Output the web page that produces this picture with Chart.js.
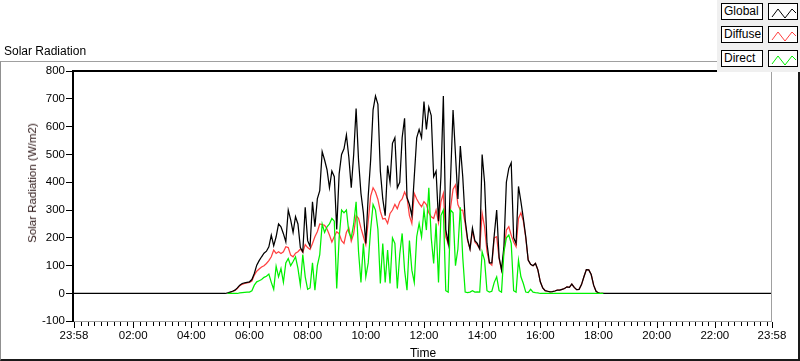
<!DOCTYPE html>
<html>
<head>
<meta charset="utf-8">
<script src="https://cdn.jsdelivr.net/npm/chart.js@4/dist/chart.umd.min.js"></script>
<style>
html,body{margin:0;padding:0;background:#fff;width:800px;height:361px;overflow:hidden;}
body{font-family:"Liberation Sans",Arial,sans-serif;color:#000;}
#wrap{position:relative;width:800px;height:361px;}
#c{position:absolute;left:0;top:0;}
#frame{position:absolute;left:0;top:61px;width:800px;height:300px;box-sizing:border-box;
  border-top:1px solid #a0a0a0;border-left:1px solid #909090;border-right:2px solid #1a1a1a;border-bottom:2px solid #1a1a1a;}
#chartTitle{position:absolute;left:4px;top:43px;font-size:12px;line-height:16px;white-space:nowrap;}
#xTitle{position:absolute;left:423px;top:345px;transform:translateX(-50%);font-size:12px;line-height:16px;white-space:nowrap;}
#yTitle{position:absolute;left:32px;top:183px;transform:translate(-50%,-50%) rotate(-90deg);font-size:11.5px;line-height:14px;white-space:nowrap;color:#2a1414;}
#legendBg{position:absolute;left:717px;top:0;width:83px;height:72px;background:#f0f0f0;}
.lbl{position:absolute;left:721px;width:42px;height:17px;box-sizing:border-box;border:1px solid #000;background:#fff;font-size:12px;line-height:15px;padding-left:2px;white-space:nowrap;}
.smp{position:absolute;left:768px;width:30px;height:17px;box-sizing:border-box;border:1px solid #000;background:#fff;}
.smp svg{position:absolute;left:0;top:0;}
</style>
</head>
<body>
<div id="wrap">
  <div id="frame"></div>
  <canvas id="c" width="800" height="361"></canvas>
  <div id="chartTitle">Solar Radiation</div>
  <div id="xTitle">Time</div>
  <div id="yTitle">Solar Radiation (W/m2)</div>
  <div id="legendBg"></div>
  <div id="legend"></div>
</div>
<script>
// ---------- data (minutes after midnight, 5-minute samples) ----------
const seriesNames = ['Global', 'Diffuse', 'Direct'];
const seriesColors = ['#000000', '#ff4040', '#00f000'];

const axisStartMin = -2;      // 23:58 of the previous day
const axisEndMin = 1438;      // 23:58
const sampleStepMin = 5;

const globalStartMin = 300;   // 05:00
const globalVals = [
  0,0,0,2,5,8,12,20,30,36,38,40,
  42,50,72,102,118,132,145,152,168,210,172,204,
  250,240,215,186,300,265,220,276,250,165,150,310,
  190,170,330,240,340,370,510,480,445,380,440,420,
  230,430,500,520,570,490,380,500,665,480,360,290,
  180,350,480,660,710,680,440,340,280,460,400,540,
  560,380,400,560,630,345,320,280,420,560,590,560,
  690,590,670,640,420,440,260,420,710,230,180,420,
  660,500,340,530,420,265,195,160,235,190,180,160,
  500,400,180,110,110,210,300,130,85,170,400,450,
  470,200,180,385,330,270,204,120,105,100,108,85,
  42,20,10,8,6,7,9,12,12,15,18,24,
  22,34,22,14,15,32,60,86,85,68,30,8,
  2,0,0
];

const diffuseStartMin = 315;  // 05:15
const diffuseVals = [
  2,4,7,11,18,28,33,36,38,
  40,45,66,80,88,95,100,108,118,132,156,144,
  150,144,150,168,165,138,132,145,150,160,148,176,
  165,158,180,204,222,250,248,245,232,210,185,205,
  222,215,190,180,220,235,188,215,280,270,235,205,
  175,260,350,380,365,338,295,268,270,252,288,300,
  320,305,330,340,365,345,280,252,360,340,324,312,
  330,320,290,276,270,300,255,330,360,204,180,310,
  375,390,320,300,300,252,190,160,225,185,175,160,
  288,240,150,110,102,200,204,125,84,150,228,240,
  210,185,168,270,290,260,200,120,105,100,108,85,
  42,20,10,8,6,7,9,12,12,15,18,24,
  22,34,22,14,15,32,60,86,85,68,30,8,
  2,0,0
];

const directStartMin = 315;   // 05:15
const directVals = [
  0,0,0,0,0,2,3,4,5,
  5,10,30,42,46,50,58,62,70,40,15,98,
  60,90,40,110,126,100,115,132,90,30,140,60,
  15,20,110,12,100,140,250,220,240,250,270,260,
  18,200,300,290,300,220,200,250,330,150,40,180,
  60,110,230,320,300,230,36,180,40,156,36,200,
  180,18,140,216,84,12,190,84,40,204,252,204,
  300,228,380,200,108,252,40,280,300,10,5,300,
  290,100,160,310,130,5,3,5,10,5,6,5,
  150,120,10,5,8,40,60,10,5,150,200,210,
  180,10,5,120,60,36,5,3,15,5,3,2,
  0,0,0,0,0,0,0,0,0,0,0,0,
  0,0,0,0,0,0,0,0,0,0,0,0,
  0,0,0
];

const yMin = -100, yMax = 800, yStep = 100;
const xMajorTickMins = [-2,120,240,360,480,600,720,840,960,1080,1200,1320,1438];
const xMinorPerMajor = 9;

// ---------- build points ----------
function toPoints(startMin, vals){
  return vals.map((v,i)=>({x:startMin + i*sampleStepMin, y:v}));
}
const globalPts = [{x:axisStartMin,y:0}].concat(toPoints(globalStartMin, globalVals)).concat([{x:axisEndMin,y:0}]);
const diffusePts = toPoints(diffuseStartMin, diffuseVals);
const directPts = toPoints(directStartMin, directVals);

function fmtTime(m){
  let mm = ((Math.round(m) % 1440) + 1440) % 1440;
  const h = Math.floor(mm/60), mi = mm%60;
  return String(h).padStart(2,'0') + ':' + String(mi).padStart(2,'0');
}

// ---------- legend (HTML, real text) ----------
const legend = document.getElementById('legend');
seriesNames.forEach((name,i)=>{
  const top = 3 + i*23.3;
  const l = document.createElement('div');
  l.className='lbl'; l.style.top = top+'px'; l.textContent = name;
  legend.appendChild(l);
  const s = document.createElement('div');
  s.className='smp'; s.style.top = top+'px';
  s.innerHTML = '<svg width="30" height="17"><polyline points="3,13 9,5 16,14 23,5 27,9" fill="none" stroke="'+seriesColors[i]+'" stroke-width="1"/></svg>';
  legend.appendChild(s);
});

// ---------- frame / ticks plugin ----------
const framePlugin = {
  id:'frameTicks',
  afterDraw(chart){
    const {ctx, scales} = chart;
    const x = scales.x, y = scales.y;
    ctx.save();
    ctx.fillStyle = '#a0a0a0';
    ctx.fillRect(771, 70, 1, 252);
    ctx.fillRect(72, 321, 700, 1);
    ctx.fillStyle = '#000';
    ctx.fillRect(72, 70, 700, 2);
    ctx.fillRect(72, 70, 2, 252);
    for(let v=yMin; v<=yMax; v+=yStep){
      const py = Math.floor(y.getPixelForValue(v));
      ctx.fillRect(66, py, 6, 1);
    }
    xMajorTickMins.forEach(v=>{
      const px = Math.round(x.getPixelForValue(v));
      ctx.fillRect(px, 322, 1, 6);
    });
    const minorStep = 120 / xMinorPerMajor;
    for(let k=1; k*minorStep < axisEndMin; k++){
      if(k % xMinorPerMajor === 0) continue;
      const px = Math.round(x.getPixelForValue(k*minorStep));
      ctx.fillRect(px, 322, 1, 4);
    }
    ctx.restore();
  }
};

const tickFont = {family:'"Liberation Sans", Arial, sans-serif', size:11.5};

new Chart(document.getElementById('c'), {
  type:'line',
  data:{
    datasets:[
      {label:seriesNames[0], data:globalPts, borderColor:seriesColors[0], borderWidth:1.25, pointRadius:0, order:1, tension:0},
      {label:seriesNames[1], data:diffusePts, borderColor:seriesColors[1], borderWidth:1.25, pointRadius:0, order:2, tension:0},
      {label:seriesNames[2], data:directPts, borderColor:seriesColors[2], borderWidth:1.25, pointRadius:0, order:0, tension:0}
    ]
  },
  options:{
    responsive:false,
    animation:false,
    events:[],
    layout:{padding:{left:0, top:71, right:28, bottom:0}},
    plugins:{legend:{display:false}, tooltip:{enabled:false}, title:{display:false}},
    scales:{
      x:{
        type:'linear', min:axisStartMin, max:axisEndMin,
        afterBuildTicks:(s)=>{ s.ticks = xMajorTickMins.map(v=>({value:v})); },
        afterFit:(s)=>{ s.height = 39.7; },
        grid:{display:false, drawTicks:false, tickLength:0},
        border:{display:false},
        ticks:{autoSkip:false, maxRotation:0, minRotation:0, padding:8, color:'#000', font:tickFont,
          callback:(v)=>fmtTime(v)}
      },
      y:{
        type:'linear', min:yMin, max:yMax,
        afterFit:(s)=>{ s.width = 74; },
        grid:{display:false, drawTicks:false, tickLength:0},
        border:{display:false},
        ticks:{stepSize:yStep, padding:9, color:'#000', font:tickFont}
      }
    }
  },
  plugins:[framePlugin]
});
</script>
</body>
</html>
